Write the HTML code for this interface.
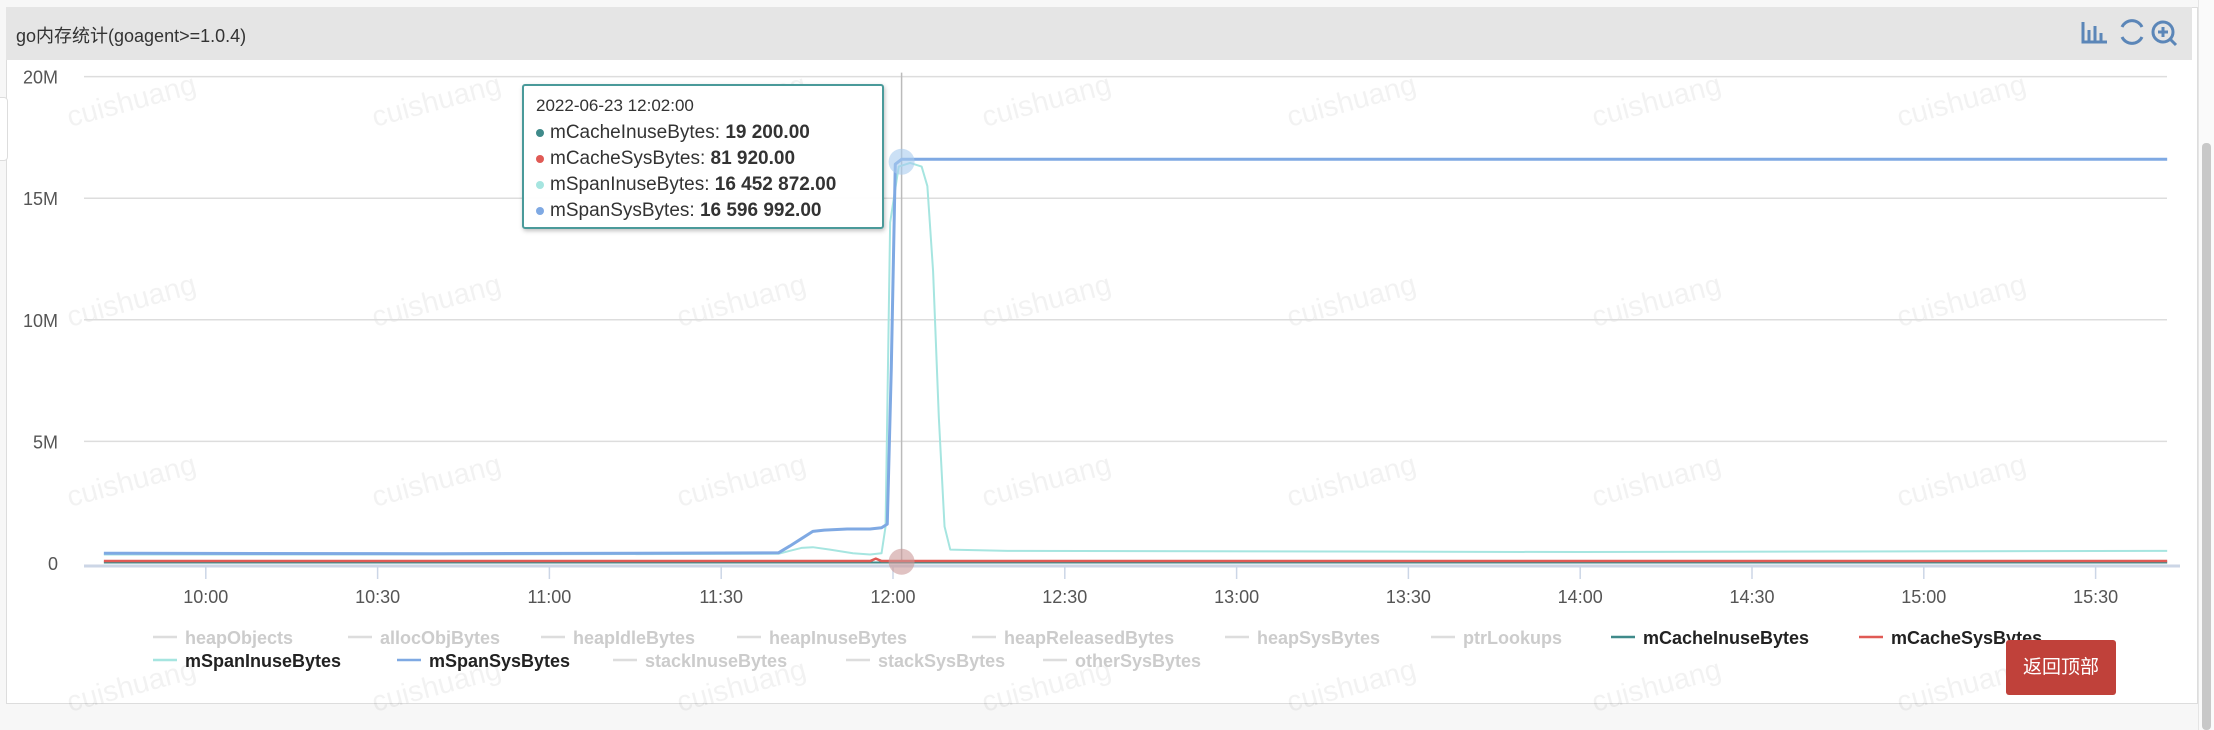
<!DOCTYPE html>
<html><head><meta charset="utf-8"><style>
html,body{margin:0;padding:0;width:2214px;height:730px;overflow:hidden;background:#f7f7f7;font-family:"Liberation Sans","Noto Sans CJK SC",sans-serif}
#panel{position:absolute;left:6px;top:7px;width:2190px;height:695px;background:#fff;border:1px solid #ddd}
#hdr{position:absolute;left:6px;top:7px;width:2186px;height:53px;background:#e5e5e5}
#title{position:absolute;left:16px;top:22px;font-size:18px;color:#333}
#btn{position:absolute;left:2006px;top:640px;width:110px;height:55px;background:#c0413a;border-radius:3px;color:#fff;font-size:19px;line-height:55px;text-align:center}
#sb{position:absolute;left:2198px;top:0;width:16px;height:730px;background:#fafafa;border-left:1px solid #e5e5e5}
#sbt{position:absolute;left:2202px;top:143px;width:9px;height:587px;background:#c8c8c8;border-radius:4px}
#tab{position:absolute;left:-4px;top:97px;width:10px;height:62px;background:#fff;border:1px solid #ddd;border-radius:4px}
#tip{position:absolute;left:522px;top:84px;width:358px;height:141px;background:rgba(255,255,255,.96);border:2px solid #4a9a9a;border-radius:3px;box-shadow:1px 2px 4px rgba(0,0,0,.25);font-size:19px;color:#333}
#tip div{position:absolute;left:12px;white-space:nowrap}
#tip b{font-weight:bold}
.dot{display:inline-block;width:8px;height:8px;border-radius:4px;margin-right:6px;vertical-align:middle}
</style></head><body>
<div id="panel"></div>
<div id="hdr"></div>
<div id="title">go内存统计(goagent&gt;=1.0.4)</div>
<div id="tab"></div>
<svg id="chart" width="2214" height="730" style="position:absolute;left:0;top:0"></svg>
<div id="tip">
<div style="top:10px;font-size:17px">2022-06-23 12:02:00</div>
<div style="top:36px"><span class="dot" style="background:#3f8a8a"></span>mCacheInuseBytes: <b>19 200.00</b></div>
<div style="top:62px"><span class="dot" style="background:#e05a55"></span>mCacheSysBytes: <b>81 920.00</b></div>
<div style="top:88px"><span class="dot" style="background:#a6e5e0"></span>mSpanInuseBytes: <b>16 452 872.00</b></div>
<div style="top:114px"><span class="dot" style="background:#7fa9e3"></span>mSpanSysBytes: <b>16 596 992.00</b></div>
</div>
<div id="btn">返回顶部</div>
<div id="sb"></div>
<div id="sbt"></div>
<script>
// data (minutes since 9:00, values in M)
const tickLabels=["10:00","10:30","11:00","11:30","12:00","12:30","13:00","13:30","14:00","14:30","15:00","15:30"];
const tickMinutes=[60,90,120,150,180,210,240,270,300,330,360,390];
const yTicks=[0,5,10,15,20];
const yTickLabels=["0","5M","10M","15M","20M"];
const spanSysT=[42.2,100,160,162,164,166,168,172,176,178,179,179.7,180.4,181.5,300,402.5];
const spanSysV=[0.4,0.38,0.42,0.7,1.0,1.3,1.35,1.4,1.4,1.45,1.6,8,16.4,16.6,16.6,16.6];
const spanInT=[42.2,100,160,162,164,166,169,173,176,178,178.7,179.5,181,183,185,186,187,188,189,190,200,300,402.5];
const spanInV=[0.35,0.35,0.38,0.5,0.62,0.65,0.55,0.4,0.35,0.4,1.5,14,16.3,16.45,16.3,15.5,12,6,1.5,0.55,0.5,0.45,0.5];
const cacheSysT=[42.2,176,177,178,402.5];
const cacheSysV=[0.08,0.08,0.18,0.08,0.08];
const cacheInT=[42.2,402.5];
const cacheInV=[0.02,0.02];
const legendNames=["heapObjects","allocObjBytes","heapIdleBytes","heapInuseBytes","heapReleasedBytes","heapSysBytes","ptrLookups","mCacheInuseBytes","mCacheSysBytes","mSpanInuseBytes","mSpanSysBytes","stackInuseBytes","stackSysBytes","otherSysBytes"];
const legendColors=[null,null,null,null,null,null,null,"#3f8a8a","#e05a55","#a6e5e0","#7fa9e3",null,null,null];

const NS="http://www.w3.org/2000/svg";
const svg=document.getElementById('chart');
const X0=104,Y0=563,YT=76.6;
const xs=m=>205.8+(m-60)*(171.8/30);
const ys=v=>Y0-(v/20)*(Y0-YT);
function mk(t,a,p){const e=document.createElementNS(NS,t);for(const k in a)e.setAttribute(k,a[k]);(p||svg).appendChild(e);return e;}
// watermarks
const wx=[70,375,680,985,1290,1595,1900],wy=[127,327,507,712];
for(const y of wy)for(const x of wx){const t=mk('text',{x:x,y:y,'font-size':29,fill:'#000','fill-opacity':0.05,transform:`rotate(-15 ${x} ${y})`,'font-family':'Liberation Sans'});t.textContent='cuishuang';

}
// grid & y labels
yTicks.forEach((v,i)=>{if(v>0){const l=mk('line',{x1:X0-20,x2:2167,y1:ys(v),y2:ys(v),stroke:'#ddd','stroke-width':1.5});

}
const t=mk('text',{x:58,y:ys(v)+7,'font-size':18,fill:'#555','text-anchor':'end'});t.textContent=yTickLabels[i];

});
const ax=mk('line',{x1:X0-20,x2:2180,y1:Y0+3,y2:Y0+3,stroke:'#ccd6e6','stroke-width':3});


tickMinutes.forEach((m,i)=>{const l=mk('line',{x1:xs(m),x2:xs(m),y1:Y0+4,y2:Y0+16,stroke:'#ccd6e6','stroke-width':1.5});


const t=mk('text',{x:xs(m),y:Y0+40,'font-size':18,fill:'#555','text-anchor':'middle'});t.textContent=tickLabels[i];

});
// crosshair
const ch=mk('line',{x1:xs(181.5),x2:xs(181.5),y1:YT-4,y2:Y0,stroke:'#bbb','stroke-width':1.5});


function series(T,V,c,w,name){const p=mk('polyline',{points:T.map((t,i)=>xs(t)+','+ys(V[i])).join(' '),fill:'none',stroke:c,'stroke-width':w,'stroke-linejoin':'round'});

}
series(cacheInT,cacheInV,'#3f8a8a',2,'series-mcacheinusebytes');
series(cacheSysT,cacheSysV,'#e05a55',2.5,'series-mcachesysbytes');
series(spanInT,spanInV,'#a6e5e0',2,'series-mspaninusebytes');
series(spanSysT,spanSysV,'#7fa9e3',3,'series-mspansysbytes');
const h1=mk('circle',{cx:xs(181.5),cy:ys(16.5),r:13,fill:'#a8cbee','fill-opacity':0.6});


const h2=mk('circle',{cx:xs(181.5),cy:ys(0.05),r:13,fill:'#c99','fill-opacity':0.6});


// legend
const lx=[153,348,541,737,972,1225,1431,1611,1859,153,397,613,846,1043];
legendNames.forEach((n,i)=>{const y=i<9?637:660;const c=legendColors[i];
const g=mk('g',{});


mk('line',{x1:lx[i],x2:lx[i]+24,y1:y,y2:y,stroke:c||'#ddd','stroke-width':2.5},g);
const t=mk('text',{x:lx[i]+32,y:y+7,'font-size':18,'font-weight':'bold',fill:c?'#222':'#ccc'},g);t.textContent=n;});
// toolbar icons
const ic=mk('g',{fill:'none',stroke:'#5b86b8','stroke-width':3});


mk('path',{d:'M2083 22v20h24M2089 42v-12M2095 42v-16M2101 42v-9'},ic);
mk('path',{d:'M2122 27a11 11 0 0 1 20 0M2142 37a11 11 0 0 1 -20 0'},ic);
mk('circle',{cx:2163,cy:32,r:10},ic);
mk('path',{d:'M2158 32h10M2163 27v10M2170 39l6 6'},ic);
</script>
</body></html>
